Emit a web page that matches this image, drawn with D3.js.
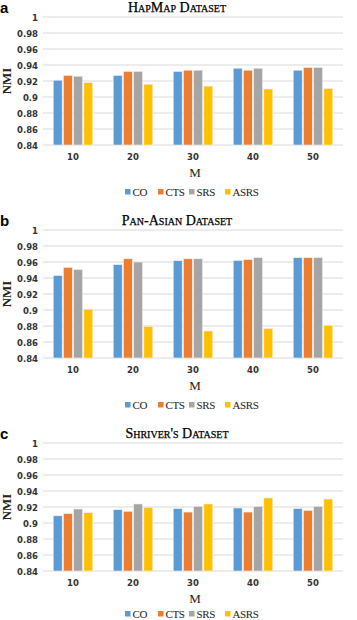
<!DOCTYPE html>
<html>
<head>
<meta charset="utf-8">
<script src="https://cdn.jsdelivr.net/npm/d3@7"></script>
<style>
  body { margin: 0; background: #fff; }
  svg { display: block; }
</style>
</head>
<body>
<svg id="chart" width="357" height="620"></svg>
<script>
const groups = ["10", "20", "30", "40", "50"];
const series = ["CO", "CTS", "SRS", "ASRS"];
const colors = ["#5b9bd5", "#ed7d31", "#a5a5a5", "#ffc000"];
const yTicks = [0.84, 0.86, 0.88, 0.9, 0.92, 0.94, 0.96, 0.98, 1];

// a: HapMap
const hapmapCO = [0.921, 0.927, 0.932, 0.936, 0.9335];
const hapmapCTS = [0.927, 0.932, 0.9335, 0.9335, 0.937];
const hapmapSRS = [0.926, 0.932, 0.9335, 0.936, 0.937];
const hapmapASRS = [0.918, 0.916, 0.9136, 0.910, 0.9107];

// b: Pan-Asian
const panCO = [0.943, 0.9567, 0.9617, 0.962, 0.9654];
const panCTS = [0.9534, 0.964, 0.964, 0.963, 0.9654];
const panSRS = [0.9505, 0.960, 0.964, 0.9654, 0.9654];
const panASRS = [0.901, 0.8796, 0.8738, 0.877, 0.8808];

// c: Shriver's
const shriverCO = [0.909, 0.9167, 0.918, 0.9188, 0.918];
const shriverCTS = [0.9117, 0.9146, 0.9137, 0.9137, 0.9158];
const shriverSRS = [0.9175, 0.9238, 0.9208, 0.9208, 0.9208];
const shriverASRS = [0.913, 0.9196, 0.9238, 0.9313, 0.930];

const svg = d3.select("#chart");
const left = 43, right = 343, plotH = 128;

function drawPanel(top, letter, title, seriesVals, legendY) {
  const g = svg.append("g").attr("transform", `translate(0,${top})`);
  const x0 = d3.scaleBand().domain(groups).range([left, right])
    .paddingInner(0.3).paddingOuter(0.15);
  const x1 = d3.scaleBand().domain(series).range([0, x0.bandwidth()]).padding(0.12);
  const y = d3.scaleLinear().domain([0.84, 1]).range([plotH + 13, 13]);

  g.append("text").attr("x", 0).attr("y", 9)
    .attr("font-family", "Liberation Sans, Arial, sans-serif")
    .attr("font-weight", "bold").attr("font-size", 15).text(letter);

  g.append("text").attr("x", 177).attr("y", 8)
    .attr("text-anchor", "middle")
    .attr("font-family", "Liberation Serif, serif")
    .style("font-variant", "small-caps")
    .attr("font-size", 14).attr("fill", "#000")
    .attr("stroke", "#000").attr("stroke-width", 0.25)
    .text(title);

  // grid
  g.selectAll("line.grid").data(yTicks).enter().append("line")
    .attr("class", "grid")
    .attr("x1", left).attr("x2", right)
    .attr("y1", (d) => y(d)).attr("y2", (d) => y(d))
    .attr("stroke", "#d9d9d9").attr("stroke-width", 1);

  g.selectAll("text.ytick").data(yTicks).enter().append("text")
    .attr("class", "ytick")
    .attr("x", 38).attr("y", (d) => y(d) + 3.5)
    .attr("text-anchor", "end")
    .attr("font-family", "DejaVu Sans, sans-serif")
    .attr("font-weight", "bold").attr("font-size", 8.5).attr("fill", "#333")
    .text((d) => String(d));

  // bars
  const bars = [];
  groups.forEach((grp, gi) => {
    series.forEach((s, si) => {
      bars.push({ grp: grp, s: s, si: si, v: seriesVals[si][gi] });
    });
  });
  g.selectAll("rect.bar").data(bars).enter().append("rect")
    .attr("class", "bar")
    .attr("x", (d) => x0(d.grp) + x1(d.s))
    .attr("width", x1.bandwidth())
    .attr("y", (d) => y(d.v))
    .attr("height", (d) => y(0.84) - y(d.v))
    .attr("fill", (d) => colors[d.si])
    .attr("stroke", "#f2f2f2").attr("stroke-width", 0.6);

  g.selectAll("text.xtick").data(groups).enter().append("text")
    .attr("class", "xtick")
    .attr("x", (d) => x0(d) + x0.bandwidth() / 2)
    .attr("y", plotH + 28)
    .attr("text-anchor", "middle")
    .attr("font-family", "DejaVu Sans, sans-serif")
    .attr("font-weight", "bold").attr("font-size", 8.5).attr("fill", "#333")
    .text((d) => d);

  g.append("text")
    .attr("transform", `translate(11,${(y(0.84) + y(1)) / 2}) rotate(-90)`)
    .attr("text-anchor", "middle")
    .attr("font-family", "Liberation Serif, serif")
    .attr("font-weight", "bold").attr("font-size", 13).attr("fill", "#222")
    .text("NMI");

  g.append("text").attr("x", (left + right) / 2 + 2).attr("y", plotH + 45)
    .attr("text-anchor", "middle")
    .attr("font-family", "Liberation Serif, serif")
    .attr("font-size", 13).attr("fill", "#222").text("M");

  // legend
  const lg = g.append("g").attr("transform", `translate(125,${legendY})`);
  const legendX = [0, 33, 64, 100];
  series.forEach((s, i) => {
    lg.append("rect").attr("x", legendX[i]).attr("y", -7)
      .attr("width", 5.5).attr("height", 5.5).attr("fill", colors[i]);
    lg.append("text").attr("x", legendX[i] + 7.5).attr("y", 0)
      .attr("font-family", "Liberation Serif, serif")
      .attr("font-size", 11).attr("letter-spacing", -0.4)
      .attr("fill", "#222").text(s);
  });
}

drawPanel(4, "a", "HapMap Dataset", [hapmapCO, hapmapCTS, hapmapSRS, hapmapASRS], plotH + 64);
drawPanel(217, "b", "Pan-Asian Dataset", [panCO, panCTS, panSRS, panASRS], plotH + 64);
drawPanel(430, "c", "Shriver's Dataset", [shriverCO, shriverCTS, shriverSRS, shriverASRS], plotH + 60);
</script>
</body>
</html>
